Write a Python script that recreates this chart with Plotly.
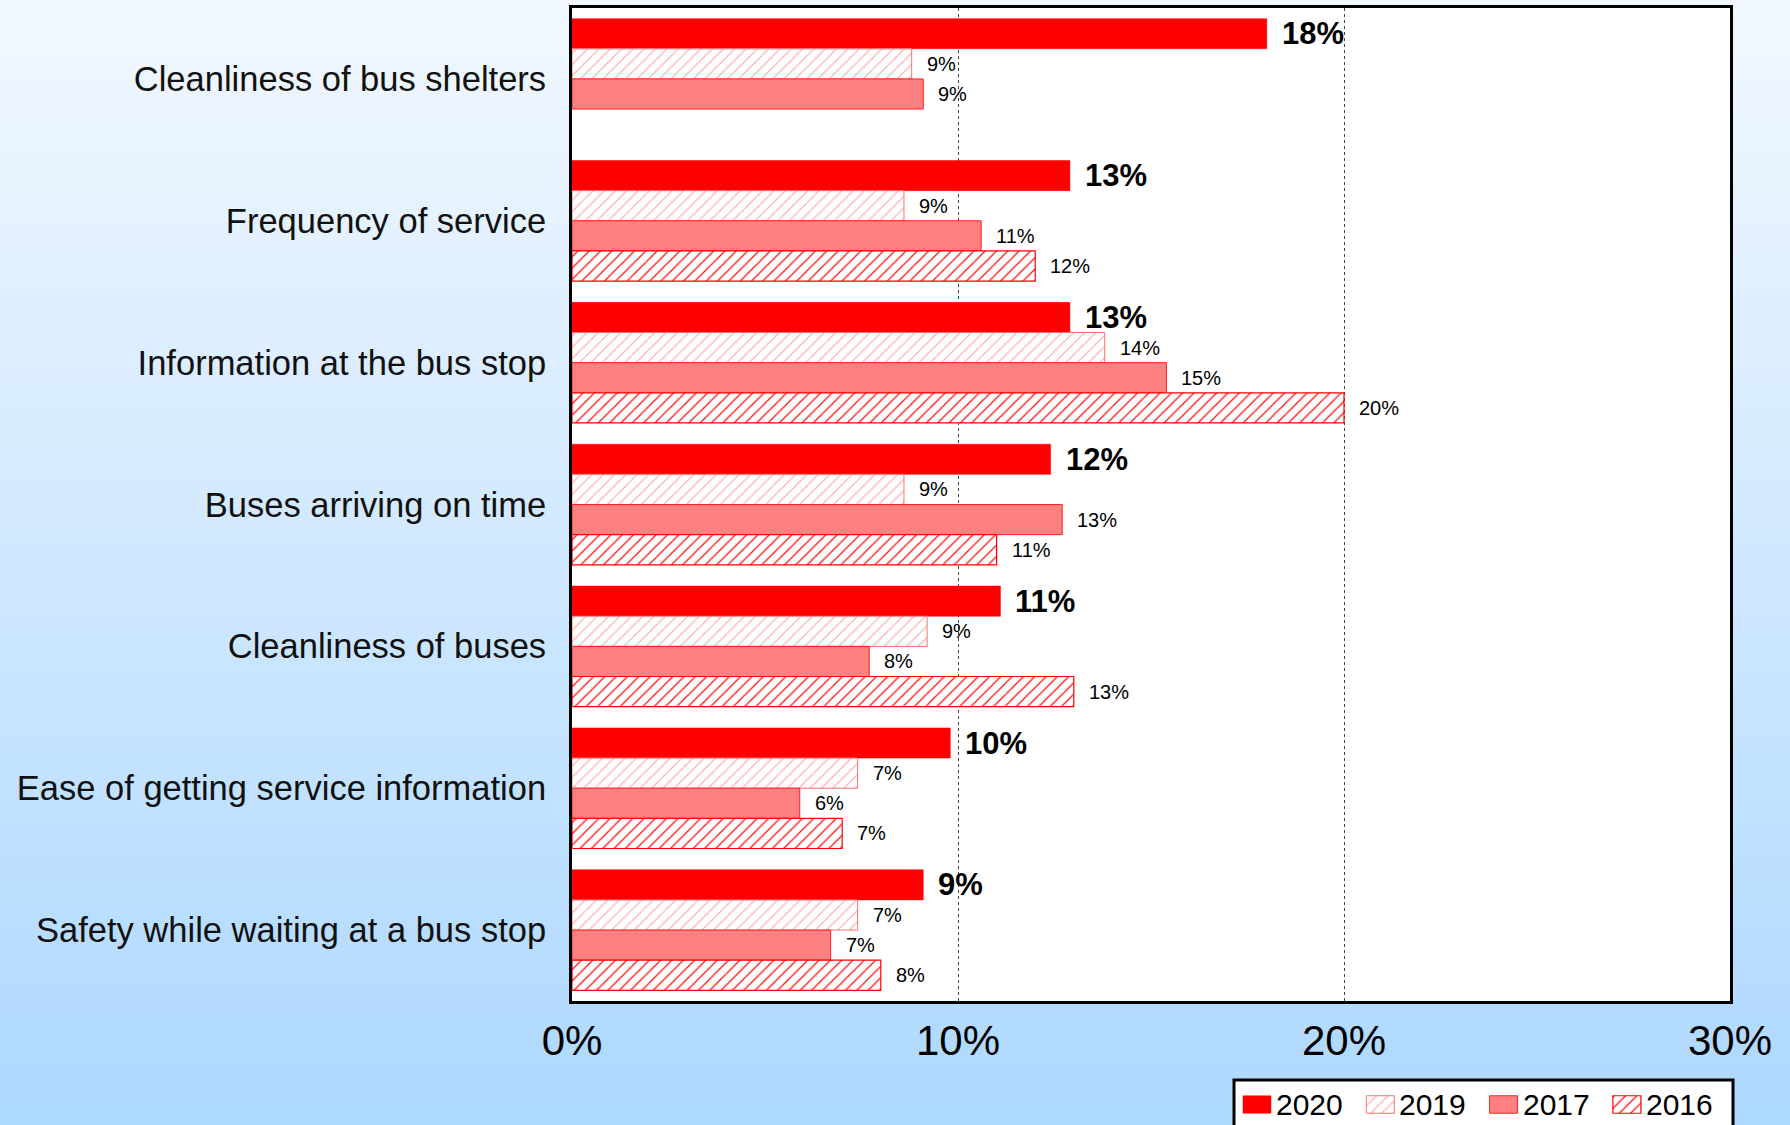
import plotly.graph_objects as go

# Survey categories, listed top to bottom
categories = [
    "Cleanliness of bus shelters",
    "Frequency of service",
    "Information at the bus stop",
    "Buses arriving on time",
    "Cleanliness of buses",
    "Ease of getting service information",
    "Safety while waiting at a bus stop",
]

years = ["2020", "2019", "2017", "2016"]

# Share of respondents (%) per year
values_2020 = [18.0, 12.9, 12.9, 12.4, 11.1, 9.8, 9.1]
values_2019 = [8.8, 8.6, 13.8, 8.6, 9.2, 7.4, 7.4]
values_2017 = [9.1, 10.6, 15.4, 12.7, 7.7, 5.9, 6.7]
values_2016 = [None, 12.0, 20.0, 11.0, 13.0, 7.0, 8.0]

series = [values_2020, values_2019, values_2017, values_2016]

x_ticks = [0, 10, 20, 30]
x_tick_labels = ["0%", "10%", "20%", "30%"]

# Page geometry in pixels (origin top-left)
W, H = 1790, 1125
PLOT_L, PLOT_R, PLOT_T, PLOT_B = 572, 1730, 8, 1001
LEG_L, LEG_R, LEG_T = 1234, 1733, 1080
LEG_ROW_Y = 1104.5
LEG_STEP = 123.3
SW_W, SW_H = 28, 17.5

FONT = "Liberation Sans, Arial, sans-serif"

styles = {
    "2020": dict(color="#FF0000", line=dict(color="#FF0000", width=0.5)),
    "2019": dict(color="#FFFFFF", line=dict(color="#FF7070", width=1),
                 pattern=dict(shape="/", fgcolor="#FF9C9C", bgcolor="#FFFFFF",
                              size=8, solidity=0.12, fillmode="replace")),
    "2017": dict(color="#FF8080", line=dict(color="#FF2020", width=1)),
    "2016": dict(color="#FFFFFF", line=dict(color="#FF0000", width=1.2),
                 pattern=dict(shape="/", fgcolor="#FF1010", bgcolor="#FFFFFF",
                              size=8, solidity=0.16, fillmode="replace")),
}

fig = go.Figure()
for year, vals in zip(years, series):
    fig.add_trace(go.Bar(
        name=year,
        x=vals,
        y=categories,
        orientation="h",
        marker=styles[year],
        hoverinfo="x+y+name",
        showlegend=False,
    ))

# Value labels to the right of each bar
bargap = 0.15
slot = (1 - bargap) / len(years)
annotations = []
for j, (year, vals) in enumerate(zip(years, series)):
    for i, v in enumerate(vals):
        if v is None:
            continue
        bold = j == 0
        annotations.append(dict(
            x=v, y=i + (j - (len(years) - 1) / 2) * slot,
            xref="x", yref="y",
            text=f"<b>{round(v):.0f}%</b>" if bold else f"{round(v):.0f}%",
            showarrow=False, xanchor="left", yanchor="middle",
            xshift=13,
            font=dict(family=FONT, size=31 if bold else 20, color="#000000"),
        ))

# Legend key: one swatch per year, drawn with the same bar styles
for k, year in enumerate(years):
    x0 = LEG_L + 9 + k * LEG_STEP
    fig.add_trace(go.Bar(
        x=[SW_W], base=[x0], y=[LEG_ROW_Y],
        orientation="h", width=SW_H, offset=-SW_H / 2,
        marker=styles[year],
        xaxis="x2", yaxis="y2",
        hoverinfo="skip", showlegend=False,
    ))
    annotations.append(dict(
        x=x0 + SW_W + 3, y=LEG_ROW_Y, xref="x2", yref="y2",
        text=year, showarrow=False, xanchor="left", yanchor="middle",
        font=dict(family=FONT, size=30, color="#000000"),
    ))


def px_x(px):
    return px / W


def px_y(py):
    return 1 - py / H


# Vertical background gradient (light at the top, sky blue at the bottom)
top_rgb = (242, 248, 255)
bot_rgb = (173, 216, 255)
n_strips = 80
shapes = []
for k in range(n_strips):
    t = (k + 0.5) / n_strips
    c = tuple(round(top_rgb[m] + (bot_rgb[m] - top_rgb[m]) * t) for m in range(3))
    shapes.append(dict(
        type="rect", xref="paper", yref="paper", layer="below",
        x0=-0.01, x1=1.01,
        y0=1 - (k + 1) / n_strips - 0.002, y1=1 - k / n_strips + (0.01 if k == 0 else 0),
        fillcolor=f"rgb{c}", line=dict(width=0),
    ))
# White plotting area over the gradient
shapes.append(dict(type="rect", xref="paper", yref="paper", layer="below",
                   x0=px_x(PLOT_L), x1=px_x(PLOT_R), y0=px_y(PLOT_B), y1=px_y(PLOT_T),
                   fillcolor="#FFFFFF", line=dict(width=0)))
# Legend box (runs past the lower page edge)
shapes.append(dict(type="rect", xref="paper", yref="paper", layer="below",
                   x0=px_x(LEG_L), x1=px_x(LEG_R), y0=px_y(H + 20), y1=px_y(LEG_T),
                   fillcolor="#FFFFFF", line=dict(color="#000000", width=3)))

fig.update_layout(
    width=W, height=H,
    margin=dict(l=0, r=0, t=0, b=0, autoexpand=False),
    paper_bgcolor="rgb(173,216,255)",
    plot_bgcolor="rgba(0,0,0,0)",
    barmode="group",
    bargap=bargap,
    bargroupgap=0,
    font=dict(family=FONT, color="#000000"),
    shapes=shapes,
    annotations=annotations,
    showlegend=False,
    xaxis=dict(
        domain=[px_x(PLOT_L), px_x(PLOT_R)],
        anchor="y",
        range=[0, 30],
        tickvals=x_ticks, ticktext=x_tick_labels,
        showgrid=True, gridcolor="#444444", gridwidth=1, griddash="dot",
        zeroline=False,
        showline=True, linecolor="#000000", linewidth=3, mirror=True,
        ticks="", ticklabelstandoff=1,
        tickfont=dict(size=42, color="#000000"),
        fixedrange=True,
    ),
    yaxis=dict(
        domain=[px_y(PLOT_B), px_y(PLOT_T)],
        anchor="x",
        type="category",
        range=[len(categories) - 0.5, -0.5],
        showgrid=False, zeroline=False,
        showline=True, linecolor="#000000", linewidth=3, mirror=True,
        ticks="", ticklabelstandoff=16,
        tickfont=dict(size=34.5, color="#111111"),
        fixedrange=True,
    ),
    xaxis2=dict(
        domain=[px_x(LEG_L), px_x(LEG_R)], anchor="y2",
        range=[LEG_L, LEG_R], visible=False, fixedrange=True,
    ),
    yaxis2=dict(
        domain=[0, px_y(LEG_T)], anchor="x2",
        range=[H, LEG_T], visible=False, fixedrange=True,
    ),
)

fig.write_html("out.html", config={"displayModeBar": False})
